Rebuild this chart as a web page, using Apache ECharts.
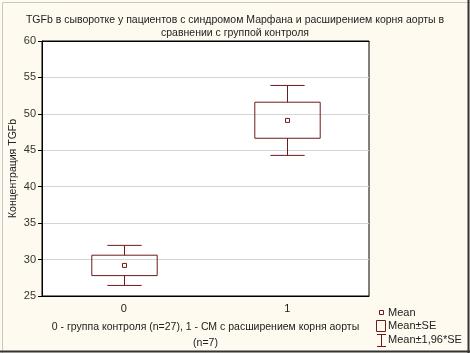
<!DOCTYPE html>
<html>
<head>
<meta charset="utf-8">
<script src="https://cdn.jsdelivr.net/npm/echarts@6/dist/echarts.min.js"></script>
<style>
    html, body {
        margin: 0;
        padding: 0;
        background: #fffaf0;
    }
    #myChart {
        width: 470px;
        height: 353px;
    }
</style>
</head>
<body>
<div id="myChart"></div>
<script>
    // groups on the x axis
    var categories = ['0', '1'];
    // mean TGFb per group
    var means = [29.2, 49.1];
    // mean ± SE
    var seLow = [27.8, 46.65];
    var seHigh = [30.6, 51.6];
    // mean ± 1,96*SE
    var ciLow = [26.45, 44.3];
    var ciHigh = [31.95, 53.9];
    var yTicks = [25, 30, 35, 40, 45, 50, 55, 60];

    var lineColor = '#6e1a1a';
    var font = '"Liberation Sans", Arial, sans-serif';

    var boxData = categories.map(function (c, i) {
        return [i, means[i], seLow[i], seHigh[i], ciLow[i], ciHigh[i]];
    });

    var myChart = echarts.init(document.getElementById('myChart'), null, {renderer: 'canvas'});

    myChart.setOption({
        animation: false,
        backgroundColor: '#fffaf0',
        textStyle: {fontFamily: font},

        title: {
            text: 'TGFb в сыворотке у пациентов с синдромом Марфана и расширением корня аорты в\nсравнении с группой контроля',
            left: 'center',
            top: 9,
            textStyle: {
                fontSize: 10.5,
                fontWeight: 'normal',
                color: '#222',
                lineHeight: 13,
                fontFamily: font
            }
        },

        grid: {
            left: 42,
            right: 101,
            top: 41,
            bottom: 57,
            outerBoundsMode: 'none',
            containLabel: false,
            show: true,
            backgroundColor: '#fff',
            borderColor: '#000',
            borderWidth: 1
        },

        xAxis: [{
            type: 'category',
            data: categories,
            position: 'bottom',
            name: '0 - группа контроля (n=27), 1 - СМ с расширением корня аорты\n(n=7)',
            nameLocation: 'middle',
            nameGap: 23,
            nameMoveOverlap: false,
            nameTextStyle: {fontSize: 10.5, color: '#222', lineHeight: 16, fontFamily: font},
            axisLine: {lineStyle: {color: '#000', width: 1}},
            axisTick: {alignWithLabel: true, inside: false, length: 4, lineStyle: {color: '#000'}},
            axisLabel: {fontSize: 11, color: '#222', margin: 7},
            splitLine: {show: false}
        }, {
            type: 'category',
            data: categories,
            position: 'top',
            axisLine: {lineStyle: {color: '#000', width: 1}},
            axisTick: {alignWithLabel: true, inside: true, length: 4, lineStyle: {color: '#000'}},
            axisLabel: {show: false},
            splitLine: {show: false}
        }],

        yAxis: {
            type: 'value',
            min: yTicks[0],
            max: yTicks[yTicks.length - 1],
            interval: 5,
            name: 'Концентрация TGFb',
            nameLocation: 'middle',
            nameGap: 23,
            nameMoveOverlap: false,
            nameTextStyle: {fontSize: 10.5, color: '#222', fontFamily: font},
            axisLine: {show: true, lineStyle: {color: '#000', width: 1}},
            axisTick: {show: true, length: 4, lineStyle: {color: '#000'}},
            axisLabel: {fontSize: 11, color: '#333', margin: 6},
            splitLine: {show: true, lineStyle: {color: '#d4d4d4', width: 1}}
        },

        series: [{
            name: 'box',
            type: 'custom',
            data: boxData,
            encode: {x: 0, y: [1, 2, 3, 4, 5]},
            renderItem: function (params, api) {
                var x = api.value(0);
                var band = api.size([1, 0])[0];
                var boxW = band * 0.4;
                var capW = band * 0.21;
                var pMean = api.coord([x, api.value(1)]);
                var pSeLo = api.coord([x, api.value(2)]);
                var pSeHi = api.coord([x, api.value(3)]);
                var pCiLo = api.coord([x, api.value(4)]);
                var pCiHi = api.coord([x, api.value(5)]);
                var cx = Math.round(pMean[0]) + 0.5;
                var st = {stroke: lineColor, fill: null, lineWidth: 1};
                return {
                    type: 'group',
                    children: [
                        {type: 'line', shape: {x1: cx, y1: pCiHi[1], x2: cx, y2: pSeHi[1]}, style: st},
                        {type: 'line', shape: {x1: cx, y1: pSeLo[1], x2: cx, y2: pCiLo[1]}, style: st},
                        {type: 'line', shape: {x1: cx - capW / 2, y1: pCiHi[1], x2: cx + capW / 2, y2: pCiHi[1]}, style: st},
                        {type: 'line', shape: {x1: cx - capW / 2, y1: pCiLo[1], x2: cx + capW / 2, y2: pCiLo[1]}, style: st},
                        {
                            type: 'rect',
                            shape: {x: cx - boxW / 2, y: pSeHi[1], width: boxW, height: pSeLo[1] - pSeHi[1]},
                            style: st
                        },
                        {
                            type: 'rect',
                            shape: {x: cx - 2, y: pMean[1] - 2, width: 4, height: 4},
                            style: st
                        }
                    ]
                };
            }
        }],

        // legend drawn by hand, the way Statistica shows it
        graphic: [
            {type: 'rect', left: 0, top: 0, shape: {x: 0.5, y: 0.5, width: 468, height: 351}, style: {fill: null, stroke: '#c8c8c8', lineWidth: 1}, silent: true},
            {type: 'line', shape: {x1: 468.5, y1: 0, x2: 468.5, y2: 353}, style: {stroke: '#333', lineWidth: 2}, silent: true},
            {type: 'line', shape: {x1: 0, y1: 351.5, x2: 470, y2: 351.5}, style: {stroke: '#333', lineWidth: 2}, silent: true},

            {type: 'rect', shape: {x: 379.5, y: 310.5, width: 4, height: 4}, style: {fill: null, stroke: lineColor, lineWidth: 1}},
            {type: 'text', x: 388, y: 313, style: {text: 'Mean', font: '11px ' + font, fill: '#222', textVerticalAlign: 'middle'}},

            {type: 'rect', shape: {x: 376.5, y: 320.5, width: 9, height: 11}, style: {fill: null, stroke: lineColor, lineWidth: 1}},
            {type: 'text', x: 388, y: 326, style: {text: 'Mean±SE', font: '11px ' + font, fill: '#222', textVerticalAlign: 'middle'}},

            {type: 'line', shape: {x1: 377, y1: 334.5, x2: 386, y2: 334.5}, style: {stroke: lineColor, lineWidth: 1}},
            {type: 'line', shape: {x1: 381.5, y1: 334.5, x2: 381.5, y2: 346.5}, style: {stroke: lineColor, lineWidth: 1}},
            {type: 'line', shape: {x1: 377, y1: 346.5, x2: 386, y2: 346.5}, style: {stroke: lineColor, lineWidth: 1}},
            {type: 'text', x: 388, y: 340, style: {text: 'Mean±1,96*SE', font: '11px ' + font, fill: '#222', textVerticalAlign: 'middle'}}
        ]
    });
</script>
</body>
</html>
